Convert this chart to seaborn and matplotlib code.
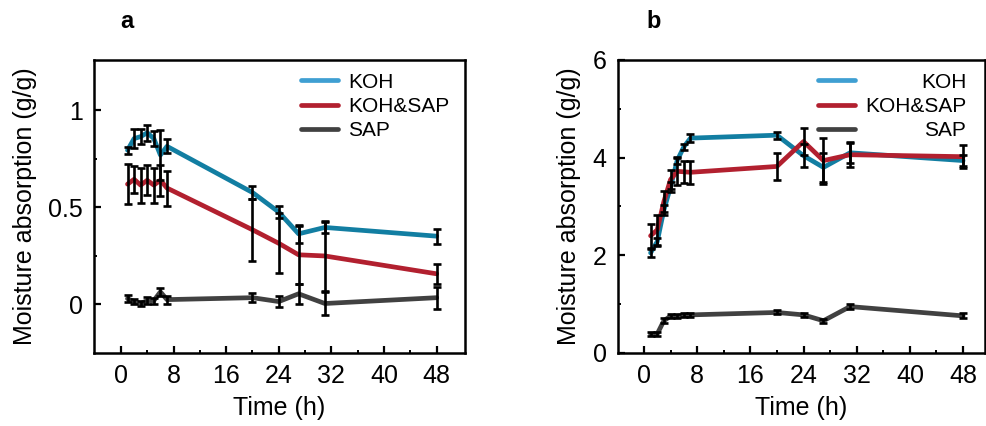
import matplotlib
matplotlib.use("Agg")
import matplotlib.pyplot as plt
import seaborn as sns
import pandas as pd

# ---------------- data ----------------
time_h = [1, 2, 3, 4, 5, 6, 7, 20, 24, 27, 31, 48]
series_names = ["KOH", "KOH&SAP", "SAP"]

a_koh = [0.795, 0.855, 0.865, 0.885, 0.855, 0.77, 0.815, 0.577, 0.476, 0.364, 0.397, 0.352]
a_koh_err = [0.017, 0.047, 0.04, 0.04, 0.04, 0.13, 0.036, 0.032, 0.03, 0.045, 0.03, 0.039]
a_ks = [0.62, 0.645, 0.615, 0.64, 0.615, 0.64, 0.60, 0.385, 0.315, 0.256, 0.25, 0.158]
a_ks_err = [0.103, 0.07, 0.09, 0.077, 0.09, 0.08, 0.09, 0.16, 0.155, 0.15, 0.18, 0.052]
a_sap = [0.03, 0.015, 0.005, 0.02, 0.02, 0.065, 0.025, 0.035, 0.015, 0.055, 0.005, 0.035]
a_sap_err = [0.018, 0.015, 0.015, 0.02, 0.015, 0.02, 0.02, 0.022, 0.03, 0.05, 0.058, 0.056]

b_koh = [2.05, 2.28, 2.93, 3.40, 3.94, 4.22, 4.40, 4.46, 4.04, 3.80, 4.10, 3.94]
b_koh_err = [0.08, 0.08, 0.10, 0.10, 0.08, 0.06, 0.08, 0.07, 0.24, 0.30, 0.20, 0.12]
b_ks = [2.40, 2.52, 3.10, 3.55, 3.72, 3.71, 3.70, 3.82, 4.33, 3.94, 4.06, 4.02]
b_ks_err = [0.24, 0.30, 0.22, 0.20, 0.27, 0.22, 0.23, 0.27, 0.28, 0.47, 0.26, 0.24]
b_sap = [0.385, 0.39, 0.66, 0.755, 0.75, 0.775, 0.78, 0.83, 0.78, 0.66, 0.95, 0.76]
b_sap_err = [0.04, 0.04, 0.05, 0.04, 0.04, 0.04, 0.04, 0.04, 0.04, 0.04, 0.05, 0.05]

x_ticks = [0, 8, 16, 24, 32, 40, 48]
a_yticks = [0, 0.5, 1]
a_yticklabels = ["0", "0.5", "1"]
b_yticks = [0, 2, 4, 6]

colors = {"KOH": "#127ea2", "KOH&SAP": "#b2202f", "SAP": "#414141"}
legend_colors = {"KOH": "#3f9fd2", "KOH&SAP": "#b2202f", "SAP": "#414141"}

# ---------------- style ----------------
sns.set_theme(style="ticks")
plt.rcParams["font.family"] = ["Liberation Sans", "DejaVu Sans"]
plt.rcParams["axes.linewidth"] = 1.8
plt.rcParams["xtick.direction"] = "in"
plt.rcParams["ytick.direction"] = "in"
for k in ["text.color", "axes.labelcolor", "xtick.color", "ytick.color", "axes.edgecolor"]:
    plt.rcParams[k] = "black"

fig = plt.figure(figsize=(9.87, 4.26), dpi=100)
ax_a = fig.add_axes([0.0952, 0.1714, 0.3759, 0.6878])
ax_b = fig.add_axes([0.6258, 0.1714, 0.3722, 0.6878])


def make_df(vals, errs):
    rows = []
    for name, v, e in zip(series_names, vals, errs):
        for t, y, s in zip(time_h, v, e):
            rows.append({"Time": t, "Value": y, "Err": s, "Series": name})
    return pd.DataFrame(rows)


df_a = make_df([a_koh, a_ks, a_sap], [a_koh_err, a_ks_err, a_sap_err])
df_b = make_df([b_koh, b_ks, b_sap], [b_koh_err, b_ks_err, b_sap_err])


def draw(ax, df):
    sns.lineplot(data=df, x="Time", y="Value", hue="Series", palette=colors,
                 hue_order=series_names, linewidth=3.4, ax=ax, legend=True,
                 estimator=None, sort=False, zorder=2)
    for name in series_names:
        sub = df[df["Series"] == name]
        ax.errorbar(sub["Time"], sub["Value"], yerr=sub["Err"], fmt="none",
                    ecolor="black", elinewidth=1.9, capsize=2.8, capthick=1.9,
                    zorder=3)
    ax.set_xlabel("Time (h)", fontsize=18, labelpad=6)
    ax.set_ylabel("Moisture absorption (g/g)", fontsize=18, labelpad=8)
    ax.set_xticks(x_ticks)
    ax.set_xticks([v + 4 for v in x_ticks[:-1]], minor=True)
    ax.tick_params(axis="both", which="major", labelsize=18, length=5, width=1.6,
                   pad=8, top=False, right=False, colors="black")
    ax.tick_params(axis="both", which="minor", length=2.5, width=1.4,
                   top=False, right=False, colors="black")
    for s in ax.spines.values():
        s.set_visible(True)
        s.set_linewidth(1.8)
        s.set_color("black")


draw(ax_a, df_a)
ax_a.set_xlim(-4.1, 52.3)
ax_a.set_ylim(-0.25, 1.26)
ax_a.set_yticks(a_yticks)
ax_a.set_yticklabels(a_yticklabels)
ax_a.set_yticks([0.25, 0.75], minor=True)

draw(ax_b, df_b)
ax_b.set_xlim(-3.95, 51.3)
ax_b.set_ylim(0, 6)
ax_b.set_yticks(b_yticks)
ax_b.set_yticks([1, 3, 5], minor=True)


def style_legend(ax, loc, anchor, right_align=False):
    leg = ax.legend(frameon=False, fontsize=15, handlelength=1.75,
                    handletextpad=0.5, labelspacing=0.25, loc=loc,
                    bbox_to_anchor=anchor, borderaxespad=0)
    for h, name in zip(leg.legend_handles, series_names):
        h.set_color(legend_colors[name])
        h.set_linewidth(3.4)
    for t in leg.get_texts():
        t.set_color("black")
    if right_align:
        fig.canvas.draw()
        r = fig.canvas.get_renderer()
        texts = leg.get_texts()
        widths = [t.get_window_extent(r).width for t in texts]
        w = max(widths)
        for t, wi in zip(texts, widths):
            t.set_position((w - wi, 0))
    return leg


style_legend(ax_a, "upper right", (0.98, 0.985))
style_legend(ax_b, "upper right", (0.972, 0.985), right_align=True)

fig.text(0.122, 0.95, "a", fontsize=17, fontweight="bold", ha="left", va="center")
fig.text(0.655, 0.95, "b", fontsize=17, fontweight="bold", ha="left", va="center")

fig.savefig("out.png", dpi=100)
